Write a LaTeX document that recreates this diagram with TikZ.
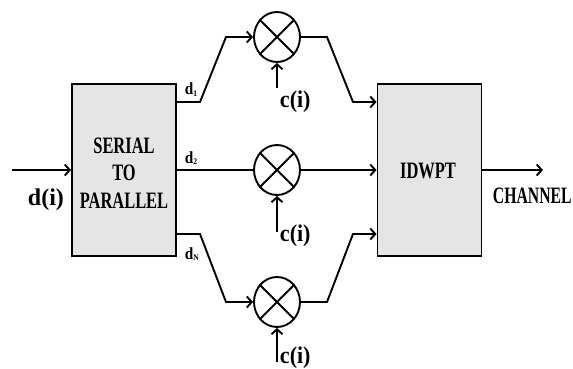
\documentclass[tikz,border=0pt]{standalone}
\usepackage{fontspec}
\setmainfont{Liberation Serif}
\usetikzlibrary{arrows.meta,shapes.geometric}
\newcommand{\narrow}[2]{\scalebox{#1}[1]{#2}}
\newcommand{\subs}[1]{\raisebox{-1.5pt}{\fontsize{8.5}{9}\selectfont #1}}
\begin{document}
\begin{tikzpicture}[x=1pt,y=-1pt,line width=1.9pt,
  blockbox/.style={draw, fill=gray!20, minimum width=104pt, minimum height=172pt, inner sep=0pt},
  mult/.style={draw, ellipse, minimum width=46pt, minimum height=50pt, inner sep=0pt},
  arr/.style={-{Straight Barb[length=5pt,width=11pt]}},
  biglab/.style={inner sep=0pt, font=\bfseries\fontsize{24}{26}\selectfont},
  boxlab/.style={inner sep=0pt, anchor=base, font=\bfseries\fontsize{23.5}{26}\selectfont},
  dlab/.style={inner sep=0pt, anchor=base west, font=\bfseries\fontsize{17}{19}\selectfont}]
\useasboundingbox (0,0) rectangle (573,369);
% blocks
\node[blockbox] (sp) at (124,170) {};
\node[blockbox] (id) at (429.5,170) {};
% multipliers
\node[mult] (m1) at (277,37) {};
\node[mult] (m2) at (277,170) {};
\node[mult] (m3) at (277,302) {};
\foreach \m in {m1,m2,m3}{
  \draw (\m.45) -- (\m.225);
  \draw (\m.135) -- (\m.315);
}
% input
\coordinate (in) at (12,170);
\draw[arr] (in) -- (sp.west);
% left wires
\coordinate (a1) at (200,102);
\coordinate (a2) at (226,37);
\draw[arr] (sp.east |- a1) -- (a1) -- (a2) -- (m1.west);
\draw (sp.east) -- (m2.west);
\coordinate (a3) at (200,234);
\coordinate (a4) at (226,302);
\draw[arr] (sp.east |- a3) -- (a3) -- (a4) -- (m3.west);
% right wires
\coordinate (b1) at (327,37);
\coordinate (b2) at (353,102);
\draw[arr] (m1.east) -- (b1) -- (b2) -- (id.west |- b2);
\draw[arr] (m2.east) -- (id.west);
\coordinate (b3) at (327,302);
\coordinate (b4) at (353,234);
\draw[arr] (m3.east) -- (b3) -- (b4) -- (id.west |- b4);
% output
\coordinate (out) at (543,170);
\draw[arr] (id.east) -- (out);
% c(i) inputs
\coordinate (c1) at (277,88);
\coordinate (c2) at (277,232);
\coordinate (c3) at (277,362);
\draw[arr] (c1) -- (m1.south);
\draw[arr] (c2) -- (m2.south);
\draw[arr] (c3) -- (m3.south);
% labels
\node[biglab, anchor=base west] (cl1) at (279,107) {\narrow{0.92}{c(i)}};
\node[biglab, anchor=base west] (cl2) at (279,241.5) {\narrow{0.92}{c(i)}};
\node[biglab, anchor=base west] (cl3) at (279,363.5) {\narrow{0.92}{c(i)}};
\node[biglab, anchor=base west] (dl) at (27,205) {d(i)};
\node[boxlab] (t1) at (124,153) {\narrow{0.7}{SERIAL}};
\node[boxlab] (t2) at (124,180) {\narrow{0.7}{TO}};
\node[boxlab] (t3) at (124,208) {\narrow{0.7}{PARALLEL}};
\node[boxlab] (t4) at (428,178) {\narrow{0.7}{IDWPT}};
\node[boxlab, anchor=base west] (t5) at (492,203) {\narrow{0.67}{CHANNEL}};
\node[dlab] (d1) at (184,95) {\narrow{0.9}{d\subs{1}}};
\node[dlab] (d2) at (184,163) {\narrow{0.9}{d\subs{2}}};
\node[dlab] (dn) at (184,259) {\narrow{0.9}{d\subs{N}}};
\end{tikzpicture}
\end{document}
